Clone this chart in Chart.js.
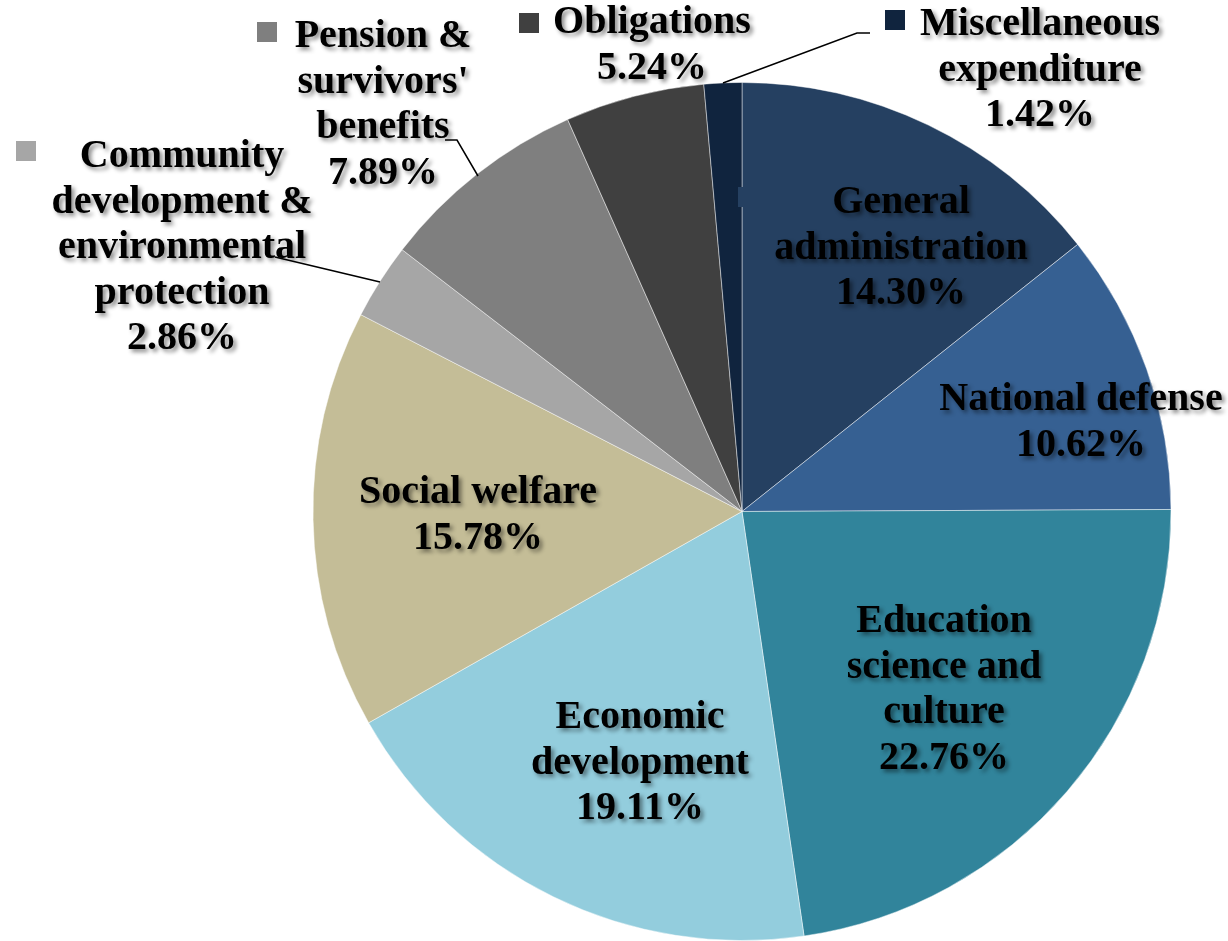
<!DOCTYPE html>
<html>
<head>
<meta charset="utf-8">
<title>Expenditure breakdown</title>
<script src="https://cdn.jsdelivr.net/npm/chart.js@4/dist/chart.umd.min.js"></script>
<style>
    html, body { margin: 0; padding: 0; background: #fff; }
    #wrap { width: 1228px; height: 941px; position: relative; }
</style>
</head>
<body>
<div id="wrap"><canvas id="pie"></canvas></div>
<script>
// Expenditure shares (%), clockwise from 12 o'clock
const categories = [
    'General\nadministration',
    'National defense',
    'Education\nscience and\nculture',
    'Economic\ndevelopment',
    'Social welfare',
    'Community\ndevelopment &\nenvironmental\nprotection',
    "Pension &\nsurvivors'\nbenefits",
    'Obligations',
    'Miscellaneous\nexpenditure'
];
const shares = [14.30, 10.62, 22.76, 19.11, 15.78, 2.86, 7.89, 5.24, 1.42];
const sliceColors = [
    '#254061', '#366092', '#31849B', '#93CDDD', '#C4BD97',
    '#A6A6A6', '#7F7F7F', '#404040', '#10243E'
];

// where each data label sits: centre x, first baseline, optional key box and leader line
const labelLayout = [
    { x: 901,  y: 213, key: [738, 187] },
    { x: 1081, y: 410 },
    { x: 944,  y: 632 },
    { x: 640,  y: 728 },
    { x: 478,  y: 503 },
    { x: 182,  y: 167, key: [16, 141],  leader: [[275, 257], [380, 282]] },
    { x: 383,  y: 47,  key: [257, 22],  leader: [[445, 140], [457, 140], [478, 176]] },
    { x: 652,  y: 33,  key: [519, 13] },
    { x: 1040, y: 35,  key: [885, 10],  leader: [[723, 83], [857, 33], [870, 33]] }
];
const lineStep = 45.5;
const labelFont = 'bold 40px "Liberation Serif", "Times New Roman", serif';

const pieLabels = {
    id: 'pieLabels',
    afterDatasetsDraw(chart) {
        const ctx = chart.ctx;
        ctx.save();

        // leader lines first so text sits on top
        ctx.strokeStyle = '#000';
        ctx.lineWidth = 1.5;
        labelLayout.forEach(l => {
            if (!l.leader) return;
            ctx.beginPath();
            l.leader.forEach((p, i) => i ? ctx.lineTo(p[0], p[1]) : ctx.moveTo(p[0], p[1]));
            ctx.stroke();
        });

        // legend keys
        labelLayout.forEach((l, i) => {
            if (!l.key) return;
            ctx.fillStyle = sliceColors[i];
            ctx.fillRect(l.key[0], l.key[1], 20, 20);
        });

        ctx.font = labelFont;
        ctx.textAlign = 'center';
        ctx.textBaseline = 'alphabetic';
        ctx.fillStyle = '#000';
        ctx.shadowColor = 'rgba(0,0,0,0.45)';
        ctx.shadowBlur = 4;
        ctx.shadowOffsetX = 3;
        ctx.shadowOffsetY = 3;
        categories.forEach((name, i) => {
            const lines = name.split('\n').concat(shares[i].toFixed(2) + '%');
            const l = labelLayout[i];
            lines.forEach((t, k) => ctx.fillText(t, l.x, l.y + k * lineStep));
        });
        ctx.restore();
    }
};

new Chart(document.getElementById('pie'), {
    type: 'pie',
    data: {
        labels: categories.map(c => c.replace(/\n/g, ' ')),
        datasets: [{
            data: shares,
            backgroundColor: sliceColors,
            borderColor: 'rgba(255,255,255,0.45)',
            borderWidth: 1
        }]
    },
    options: {
        responsive: true,
        maintainAspectRatio: false,
        animation: false,
        layout: { padding: { left: 312, right: 56, top: 82, bottom: 0 } },
        plugins: {
            legend: { display: false },
            tooltip: { enabled: false }
        }
    },
    plugins: [pieLabels]
});
</script>
</body>
</html>
